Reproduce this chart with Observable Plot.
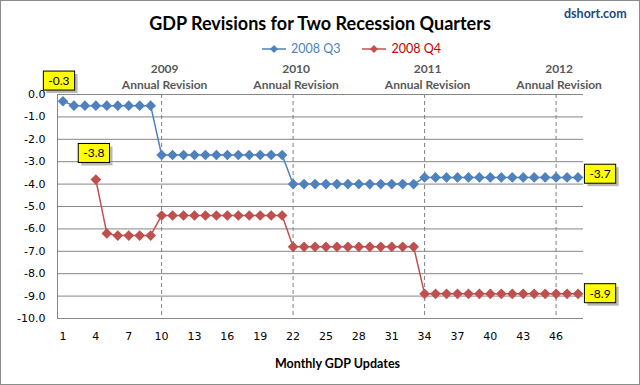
<!DOCTYPE html>
<html><head><meta charset="utf-8">
<script src="https://cdn.jsdelivr.net/npm/d3@7"></script>
<script src="https://cdn.jsdelivr.net/npm/@observablehq/plot@0.6"></script>
<style>
body{margin:0;background:#fff;}
#wrap{position:relative;width:640px;height:385px;overflow:hidden;background:#fff;font-family:Lato,"Open Sans",sans-serif;}
#frame{position:absolute;left:0;top:0;width:640px;height:385px;box-sizing:border-box;border:1px solid #8c8c8c;pointer-events:none;}
#title{position:absolute;top:11px;left:0;width:640px;text-align:center;font-weight:bold;font-size:18px;color:#000;line-height:24px;}
#src{position:absolute;top:6px;left:564px;font-weight:bold;font-size:12.5px;color:#1F497D;line-height:16px;}
#legend{position:absolute;top:41px;left:262px;display:flex;align-items:center;font-size:12.5px;line-height:16px;}
#legend .item{display:flex;align-items:center;margin-right:22px;}
#legend svg{margin-right:5px;}
#chart{position:absolute;left:0;top:60px;}
</style>
</head><body>
<div id="wrap">
  <div id="title">GDP Revisions for Two Recession Quarters</div>
  <div id="src">dshort.com</div>
  <div id="legend"></div>
  <div id="chart"></div>
  <div id="frame"></div>
</div>
<script>
// ---- data ----
const updates = [1,2,3,4,5,6,7,8,9,10,11,12,13,14,15,16,17,18,19,20,21,22,23,24,25,26,27,28,29,30,31,32,33,34,35,36,37,38,39,40,41,42,43,44,45,46,47,48];
const q3Values = [-0.3,-0.5,-0.5,-0.5,-0.5,-0.5,-0.5,-0.5,-0.5,
  -2.7,-2.7,-2.7,-2.7,-2.7,-2.7,-2.7,-2.7,-2.7,-2.7,-2.7,-2.7,
  -4.0,-4.0,-4.0,-4.0,-4.0,-4.0,-4.0,-4.0,-4.0,-4.0,-4.0,-4.0,
  -3.7,-3.7,-3.7,-3.7,-3.7,-3.7,-3.7,-3.7,-3.7,-3.7,-3.7,-3.7,-3.7,-3.7,-3.7];
const q4Values = [null,null,null,-3.8,-6.2,-6.3,-6.3,-6.3,-6.3,
  -5.4,-5.4,-5.4,-5.4,-5.4,-5.4,-5.4,-5.4,-5.4,-5.4,-5.4,-5.4,
  -6.8,-6.8,-6.8,-6.8,-6.8,-6.8,-6.8,-6.8,-6.8,-6.8,-6.8,-6.8,
  -8.9,-8.9,-8.9,-8.9,-8.9,-8.9,-8.9,-8.9,-8.9,-8.9,-8.9,-8.9,-8.9,-8.9,-8.9];
const seriesNames = ["2008 Q3", "2008 Q4"];
const xTicks = [1,4,7,10,13,16,19,22,25,28,31,34,37,40,43,46];
const yTicks = [0,-1,-2,-3,-4,-5,-6,-7,-8,-9,-10];
const revisionUpdates = [10, 22, 34, 46];
const revisionLabels = ["2009\nAnnual Revision", "2010\nAnnual Revision", "2011\nAnnual Revision", "2012\nAnnual Revision"];
const xTitle = "Monthly GDP Updates";

// ---- styles ----
const colors = {"2008 Q3": "#4F81BD", "2008 Q4": "#C0504D"};
const legendTextColors = {"2008 Q3": "#4F81BD", "2008 Q4": "#C00000"};

// build tables
const q3 = updates.map((u, i) => ({u, v: q3Values[i]}));
const q4 = updates.map((u, i) => ({u, v: q4Values[i]})).filter(d => d.v != null);
const revisions = revisionUpdates.map((u, i) => ({u, label: revisionLabels[i]}));
const callouts = [
  {u: q3[0].u, v: q3[0].v},
  {u: q4[0].u, v: q4[0].v},
  {u: q3[q3.length - 1].u, v: q3[q3.length - 1].v},
  {u: q4[q4.length - 1].u, v: q4[q4.length - 1].v}
].map(d => ({...d, label: d.v.toFixed(1)}));
const calloutOffsets = [[-4, -20], [-2, -26], [22, -3], [22, 0]];

// legend
const legend = document.getElementById("legend");
seriesNames.forEach(name => {
  const c = colors[name];
  const item = document.createElement("div");
  item.className = "item";
  item.innerHTML = `<svg width="24" height="10"><line x1="0" y1="5" x2="24" y2="5" stroke="${c}" stroke-width="1.5"/><path d="M12,1 L16,5 L12,9 L8,5Z" fill="${c}"/></svg><span style="color:${legendTextColors[name]}">${name}</span>`;
  legend.appendChild(item);
});

const seriesMarks = [[q3, colors["2008 Q3"]], [q4, colors["2008 Q4"]]].flatMap(([data, c]) => [
  Plot.line(data, {x: "u", y: "v", stroke: c, strokeWidth: 1.5}),
  Plot.dot(data, {x: "u", y: "v", symbol: "diamond2", r: 4.8, fill: c, stroke: null})
]);

const chart = Plot.plot({
  width: 640,
  height: 325,
  marginTop: 34,
  marginBottom: 67,
  marginLeft: 57,
  marginRight: 57,
  style: {fontFamily: "DejaVu Sans", fontSize: "11px", color: "#000", background: "transparent", overflow: "visible"},
  x: {type: "linear", domain: [0.5, 48.5]},
  y: {domain: [-10, 0]},
  marks: [
    Plot.gridY(yTicks, {stroke: "#868686", strokeOpacity: 1, strokeWidth: 1}),
    Plot.ruleX(revisionUpdates, {stroke: "#7f7f7f", strokeWidth: 1, strokeDasharray: "4,3"}),
    Plot.ruleX([0.5], {stroke: "#868686", strokeWidth: 1}),
    Plot.axisY(yTicks, {tickSize: 0, tickPadding: 12, tickFormat: d => d.toFixed(1), label: null}),
    Plot.axisX(xTicks, {tickSize: 0, tickPadding: 14, tickFormat: d => String(d), label: null}),
    ...seriesMarks,
    Plot.text(revisions, {x: "u", text: "label", frameAnchor: "top", lineAnchor: "bottom", dx: 3, dy: -6, lineHeight: 1.33,
      fill: "#595959", fontFamily: "Lato", fontWeight: "bold", fontSize: 12}),
    ...callouts.map((c, i) => Plot.text([c], {x: "u", y: "v", text: "label", dx: calloutOffsets[i][0], dy: calloutOffsets[i][1],
      fill: "#000", fontFamily: "Lato", fontSize: 12, ariaDescription: "callout"})),
    Plot.text([xTitle], {frameAnchor: "bottom", lineAnchor: "middle", dx: 17, dy: 45, fill: "#000", fontFamily: "Lato", fontWeight: "bold", fontSize: 12.5})
  ]
});
document.getElementById("chart").appendChild(chart);

// yellow boxes behind callout texts
const calloutTexts = new Set(callouts.map(d => d.label));
const ns = "http://www.w3.org/2000/svg";
let targets = Array.from(chart.querySelectorAll('g[aria-description="callout"] text'));
if (!targets.length) {
  targets = Array.from(chart.querySelectorAll("text")).filter(t => calloutTexts.has(t.textContent) && !(t.closest('g[aria-label^="y-axis"]')));
}
targets.forEach(t => {
  const bb = t.getBBox();
  const g = t.parentNode;
  const tr = t.getAttribute("transform") || "";
  const mk = (dx, dy, fill) => {
    const r = document.createElementNS(ns, "rect");
    r.setAttribute("x", bb.x - 5 + dx); r.setAttribute("y", bb.y - 2 + dy);
    r.setAttribute("width", bb.width + 10); r.setAttribute("height", bb.height + 4);
    r.setAttribute("fill", fill);
    if (tr) r.setAttribute("transform", tr);
    return r;
  };
  const shadow = mk(3, 3, "#8a8a8a");
  shadow.setAttribute("fill-opacity", "0.6");
  const box = mk(0, 0, "#FFFF00");
  box.setAttribute("stroke", "#000"); box.setAttribute("stroke-width", "1");
  g.insertBefore(shadow, t);
  g.insertBefore(box, t);
});
</script>
</body></html>
